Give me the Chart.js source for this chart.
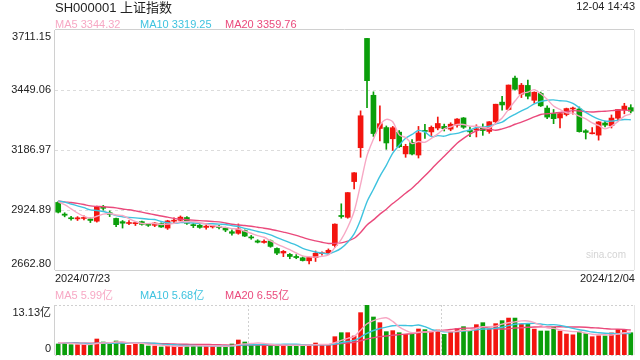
<!DOCTYPE html>
<html>
<head>
<meta charset="utf-8">
<script src="https://cdn.jsdelivr.net/npm/chart.js"></script>
<style>
  html, body { margin: 0; padding: 0; background: #fff; }
  #lienzo { position: relative; width: 640px; height: 360px; overflow: hidden;
            font-family: "Liberation Sans", Arial, "Noto Sans CJK SC", sans-serif; }
  #lienzo canvas { position: absolute; left: 0; top: 0; }
  .txt { position: absolute; white-space: nowrap; font-size: 11px; line-height: 11px; color: #333; }
</style>
</head>
<body>
<div id="lienzo">
  <canvas id="grafico-k" width="640" height="360"></canvas>
  <canvas id="grafico-vol" width="640" height="360"></canvas>

  <div class="txt" style="left:55px;top:1px;font-size:13px;line-height:13px;color:#222">SH000001 上证指数</div>
  <div class="txt" style="right:5px;top:1px;color:#222">12-04 14:43</div>

  <div class="txt" style="left:55px;top:19px;color:#f7a8c4">MA5 3344.32</div>
  <div class="txt" style="left:140px;top:19px;color:#3fc3df">MA10 3319.25</div>
  <div class="txt" style="left:225px;top:19px;color:#ea4a7c">MA20 3359.76</div>

  <div class="txt" style="left:586px;top:249px;font-size:10px;color:#d4d4d4">sina.com</div>
  <div class="txt" style="left:55px;top:273px;color:#222">2024/07/23</div>
  <div class="txt" style="right:5px;top:273px;color:#222">2024/12/04</div>

  <div class="txt" style="left:55px;top:290px;color:#f7a8c4">MA5 5.99亿</div>
  <div class="txt" style="left:140px;top:290px;color:#3fc3df">MA10 5.68亿</div>
  <div class="txt" style="left:225px;top:290px;color:#ea4a7c">MA20 6.55亿</div>
</div>

<script>
// ── Datos ─────────────────────────────────────
const fechas = ['07/23','07/24','07/25','07/26','07/29','07/30','07/31',
  '08/01','08/02','08/05','08/06','08/07','08/08','08/09','08/12','08/13','08/14','08/15','08/16',
  '08/19','08/20','08/21','08/22','08/23','08/26','08/27','08/28','08/29','08/30',
  '09/02','09/03','09/04','09/05','09/06','09/09','09/10','09/11','09/12','09/13','09/18','09/19',
  '09/20','09/23','09/24','09/25','09/26','09/27','09/30',
  '10/08','10/09','10/10','10/11','10/14','10/15','10/16','10/17','10/18','10/21','10/22','10/23',
  '10/24','10/25','10/28','10/29','10/30','10/31',
  '11/01','11/04','11/05','11/06','11/07','11/08','11/11','11/12','11/13','11/14','11/15','11/18',
  '11/19','11/20','11/21','11/22','11/25','11/26','11/27','11/28','11/29',
  '12/02','12/03','12/04']

const aperturas = [2958,2907,2890,2886,2888,2886,2876,2938,2913,2888,2874,2866,2865,2874,2862,2858,2866,2846,2876,
  2880,2892,2861,2858,2849,2851,2854,2847,2830,2823,
  2835,2807,2790,2783,2790,2757,2737,2731,2722,2716,2703,2717,2734,2737,2770,2901,2893,3049,3197,
  3674.4,3426,3281,3285,3236,3265,3170,3220,3165,3271,3266,3283,3290,3278,3295,3327,3273,3274,
  3282,3268,3310,3396,3364,3501,3431,3469,3404,3434,3370,3346,3327,3342,3366,3366,3271,3258,3252,3305,3293,
  3326,3362,3372]

const maximos = [2962,2913,2897,2896,2899,2891,2942,2945,2921,2890,2879,2879,2873,2877,2866,2870,2869,2880,2891,
  2899,2896,2866,2862,2860,2858,2858,2850,2838,2864,
  2838,2814,2795,2795,2794,2760,2748,2735,2730,2720,2721,2746,2742,2755,2864,2952,3001,3088,3358,
  3674.4,3441,3380,3292,3290,3272,3212,3232,3290,3299,3292,3331,3300,3306,3324,3329,3290,3297,
  3301,3311,3387,3421,3471,3510,3478,3492,3441,3440,3380,3364,3346,3370,3374,3375,3276,3285,3311,3312,3340,
  3364,3391,3385]

const minimos = [2912,2895,2880,2879,2882,2870,2872,2924,2896,2852,2846,2861,2857,2859,2853,2852,2849,2840,2870,
  2876,2862,2848,2845,2841,2846,2842,2830,2815,2819,
  2809,2797,2781,2780,2762,2730,2721,2712,2712,2702,2689,2700,2728,2730,2761,2889,2889,3017,3155,
  3372,3246,3227,3190,3185,3198,3155,3165,3152,3238,3250,3275,3270,3271,3287,3281,3245,3244,
  3251,3260,3304,3361,3361,3448,3416,3410,3391,3377,3324,3302,3283,3336,3343,3265,3235,3257,3230,3288,3283,
  3317,3345,3349]

const cierres = [2915.37,2901.95,2886.74,2890.90,2891.85,2879.30,2938.75,2932.39,2905.34,2860.70,2867.28,2869.90,
  2869.83,2862.19,2858.20,2867.95,2850.65,2877.36,2879.43,2893.67,2866.66,2856.58,2848.77,2854.37,2855.52,
  2848.32,2837.43,2823.11,2842.21,
  2811.04,2802.98,2784.28,2788.31,2765.81,2736.49,2744.19,2721.80,2717.12,2704.09,2717.28,2736.02,2736.81,
  2748.92,2863.13,2896.31,3000.95,3087.53,3336.50,
  3489.78,3258.86,3301.93,3217.74,3284.32,3201.29,3202.95,3169.38,3261.56,3268.11,3285.87,3302.80,3280.26,
  3299.70,3322.20,3286.41,3266.24,3279.82,
  3272.01,3310.21,3386.99,3383.81,3470.66,3452.30,3470.07,3421.97,3439.28,3379.84,3330.73,3323.85,3346.01,
  3367.99,3370.40,3267.19,3263.76,3259.76,3309.78,3295.70,3326.46,
  3363.98,3378.81,3356.65]

// volumen en 亿
const volumenes = [2.89,3.06,2.71,2.71,2.71,2.71,4.2,3.41,3.06,3.68,3.06,2.54,3.06,3.06,2.36,2.36,2.1,2.36,2.36,
  2.36,2.45,2.45,2.45,2.36,2.36,2.19,2.19,2.89,3.94,
  3.41,2.71,2.71,2.54,2.71,2.54,2.54,2.54,2.54,2.71,2.71,3.15,2.7,2.7,4.81,5.86,5.86,4.99,11.12,
  13.13,9.98,8.49,6.13,6.39,5.86,5.43,5.43,6.83,6.65,6.13,6.57,5.43,6.13,6.92,7.44,6.39,7.97,
  8.49,6.83,8.23,9.02,9.7,9.7,8.1,8.2,6.8,6.3,6.3,7.3,6.3,5.5,5.3,6.1,5.6,4.8,5.05,5.0,5.8,
  6.7,6.6,5.85]

// sesiones anteriores al 07/23, solo para arrancar las medias móviles
const cierresPrevios = [2972.53,2945.85,2967.40,2994.73,2997.01,2982.38,2957.57,2949.93,2922.45,2959.37,
  2939.36,2970.39,2971.30,2974.01,2976.30,2962.52,2977.13,2982.31,2964.22]
const volumenesPrevios = [3.2,3.3,3.1,3.0,3.4,3.3,3.1,3.2,3.0,3.3,3.2,3.1,3.4,3.2,3.0,3.1,3.3,3.5,3.2]

const ticksPrecio   = [3711.15, 3449.06, 3186.97, 2924.89, 2662.80]
const ticksVolumen  = [13.13, 0]
const etiquetasVol  = ['13.13亿', '0']

// ── Colores ───────────────────────────────────
const ROJO  = '#f3150f'
const VERDE = '#0a9e0a'
const C_MA5  = '#f7a8c4'
const C_MA10 = '#3fc3df'
const C_MA20 = '#ea4a7c'
const FUENTE = '11px "Liberation Sans", Arial, "Noto Sans CJK SC", sans-serif'

// ── Medias móviles ────────────────────────────
function media(serie, previos, n) {
  const todo = [...previos, ...serie]
  return serie.map((_, i) => {
    const fin = previos.length + i + 1
    const tramo = todo.slice(Math.max(0, fin - n), fin)
    return tramo.reduce((s, v) => s + v, 0) / tramo.length
  })
}

const colorVela = cierres.map((c, i) => c >= aperturas[i] ? ROJO : VERDE)

function lineaMA(datos, color) {
  return { type: 'line', data: datos, borderColor: color, borderWidth: 1.4,
           pointRadius: 0, tension: 0.3, fill: false, order: 0 }
}

function trazo(ctx, x1, y1, x2, y2) {
  ctx.beginPath(); ctx.moveTo(x1, y1); ctx.lineTo(x2, y2); ctx.stroke()
}

// ── Marco + etiquetas del panel de precio ────
const marcoPrecio = {
  id: 'marcoPrecio',
  beforeDatasetsDraw(chart) {
    const { ctx, chartArea: a, scales: { y } } = chart
    ctx.save()
    ctx.lineWidth = 1
    ctx.strokeStyle = '#dcdcdc'
    ctx.setLineDash([3, 3])
    ticksPrecio.slice(1, -1).forEach(v => {
      const py = Math.round(y.getPixelForValue(v)) + 0.5
      trazo(ctx, a.left, py, a.right, py)
    })
    ctx.setLineDash([])
    ctx.strokeStyle = '#d0d0d0'
    trazo(ctx, a.left, a.top - 0.5, a.right, a.top - 0.5)
    trazo(ctx, a.left, a.bottom + 0.5, a.right, a.bottom + 0.5)
    trazo(ctx, a.left - 0.5, a.top, a.left - 0.5, a.bottom)
    ctx.strokeStyle = '#e6e6e6'
    trazo(ctx, a.right + 0.5, a.top, a.right + 0.5, a.bottom)
    ctx.restore()
  },
  afterDraw(chart) {
    const { ctx, chartArea: a, scales: { y } } = chart
    ctx.save()
    ctx.font = FUENTE
    ctx.fillStyle = '#222'
    ctx.textAlign = 'right'
    ticksPrecio.forEach((v, i) => {
      let py = y.getPixelForValue(v)
      if (i === 0) { ctx.textBaseline = 'top'; py += 1 }
      else if (i === ticksPrecio.length - 1) { ctx.textBaseline = 'bottom'; py -= 1 }
      else ctx.textBaseline = 'middle'
      ctx.fillText(v.toFixed(2), a.left - 4, py)
    })
    ctx.restore()
  }
}

// ── Marco + etiquetas del panel de volumen ───
const marcoVolumen = {
  id: 'marcoVolumen',
  beforeDatasetsDraw(chart) {
    const { ctx, chartArea: a } = chart
    ctx.save()
    ctx.lineWidth = 1
    ctx.strokeStyle = '#d0d0d0'
    ctx.setLineDash([2, 2])
    trazo(ctx, a.left, a.top + 0.5, a.right, a.top + 0.5)
    trazo(ctx, a.left, a.bottom + 0.5, a.right, a.bottom + 0.5)
    ;[1, 2].forEach(k => {
      const px = Math.round(a.left + (a.right - a.left) * k / 3) + 0.5
      trazo(ctx, px, a.top, px, a.bottom)
    })
    ctx.setLineDash([])
    trazo(ctx, a.left - 0.5, a.top, a.left - 0.5, a.bottom)
    ctx.strokeStyle = '#e6e6e6'
    trazo(ctx, a.right + 0.5, a.top, a.right + 0.5, a.bottom)
    ctx.restore()
  },
  afterDraw(chart) {
    const { ctx, chartArea: a, scales: { y } } = chart
    ctx.save()
    ctx.font = FUENTE
    ctx.fillStyle = '#222'
    ctx.textAlign = 'right'
    ticksVolumen.forEach((v, i) => {
      let py = y.getPixelForValue(v)
      if (i === 0) { ctx.textBaseline = 'top'; py += 2 }
      else { ctx.textBaseline = 'bottom'; py -= 1 }
      ctx.fillText(etiquetasVol[i], a.left - 4, py)
    })
    ctx.restore()
  }
}

const opcionesBase = {
  responsive: false,
  animation: false,
  devicePixelRatio: 1,
  plugins: { legend: { display: false }, tooltip: { enabled: false } },
  events: []
}

// ── Velas ─────────────────────────────────────
new Chart(document.getElementById('grafico-k').getContext('2d'), {
  type: 'bar',
  data: {
    labels: fechas,
    datasets: [
      lineaMA(media(cierres, cierresPrevios, 5), C_MA5),
      lineaMA(media(cierres, cierresPrevios, 10), C_MA10),
      lineaMA(media(cierres, cierresPrevios, 20), C_MA20),
      { data: aperturas.map((o, i) => [o, cierres[i]]), backgroundColor: colorVela,
        barThickness: 5, minBarLength: 1, grouped: false, order: 1 },
      { data: minimos.map((l, i) => [l, maximos[i]]), backgroundColor: colorVela,
        barThickness: 1, grouped: false, order: 2 }
    ]
  },
  options: {
    ...opcionesBase,
    layout: { padding: { left: 55, right: 6, top: 30, bottom: 90 } },
    scales: {
      x: { display: false, offset: true },
      y: { display: false, min: ticksPrecio[4], max: ticksPrecio[0] }
    }
  },
  plugins: [marcoPrecio]
})

// ── Volumen ───────────────────────────────────
new Chart(document.getElementById('grafico-vol').getContext('2d'), {
  type: 'bar',
  data: {
    labels: fechas,
    datasets: [
      lineaMA(media(volumenes, volumenesPrevios, 5), C_MA5),
      lineaMA(media(volumenes, volumenesPrevios, 10), C_MA10),
      lineaMA(media(volumenes, volumenesPrevios, 20), C_MA20),
      { data: volumenes, backgroundColor: colorVela, barThickness: 4, order: 1 }
    ]
  },
  options: {
    ...opcionesBase,
    layout: { padding: { left: 55, right: 6, top: 305, bottom: 5 } },
    scales: {
      x: { display: false, offset: true },
      y: { display: false, min: 0, max: ticksVolumen[0] }
    }
  },
  plugins: [marcoVolumen]
})
</script>
</body>
</html>
